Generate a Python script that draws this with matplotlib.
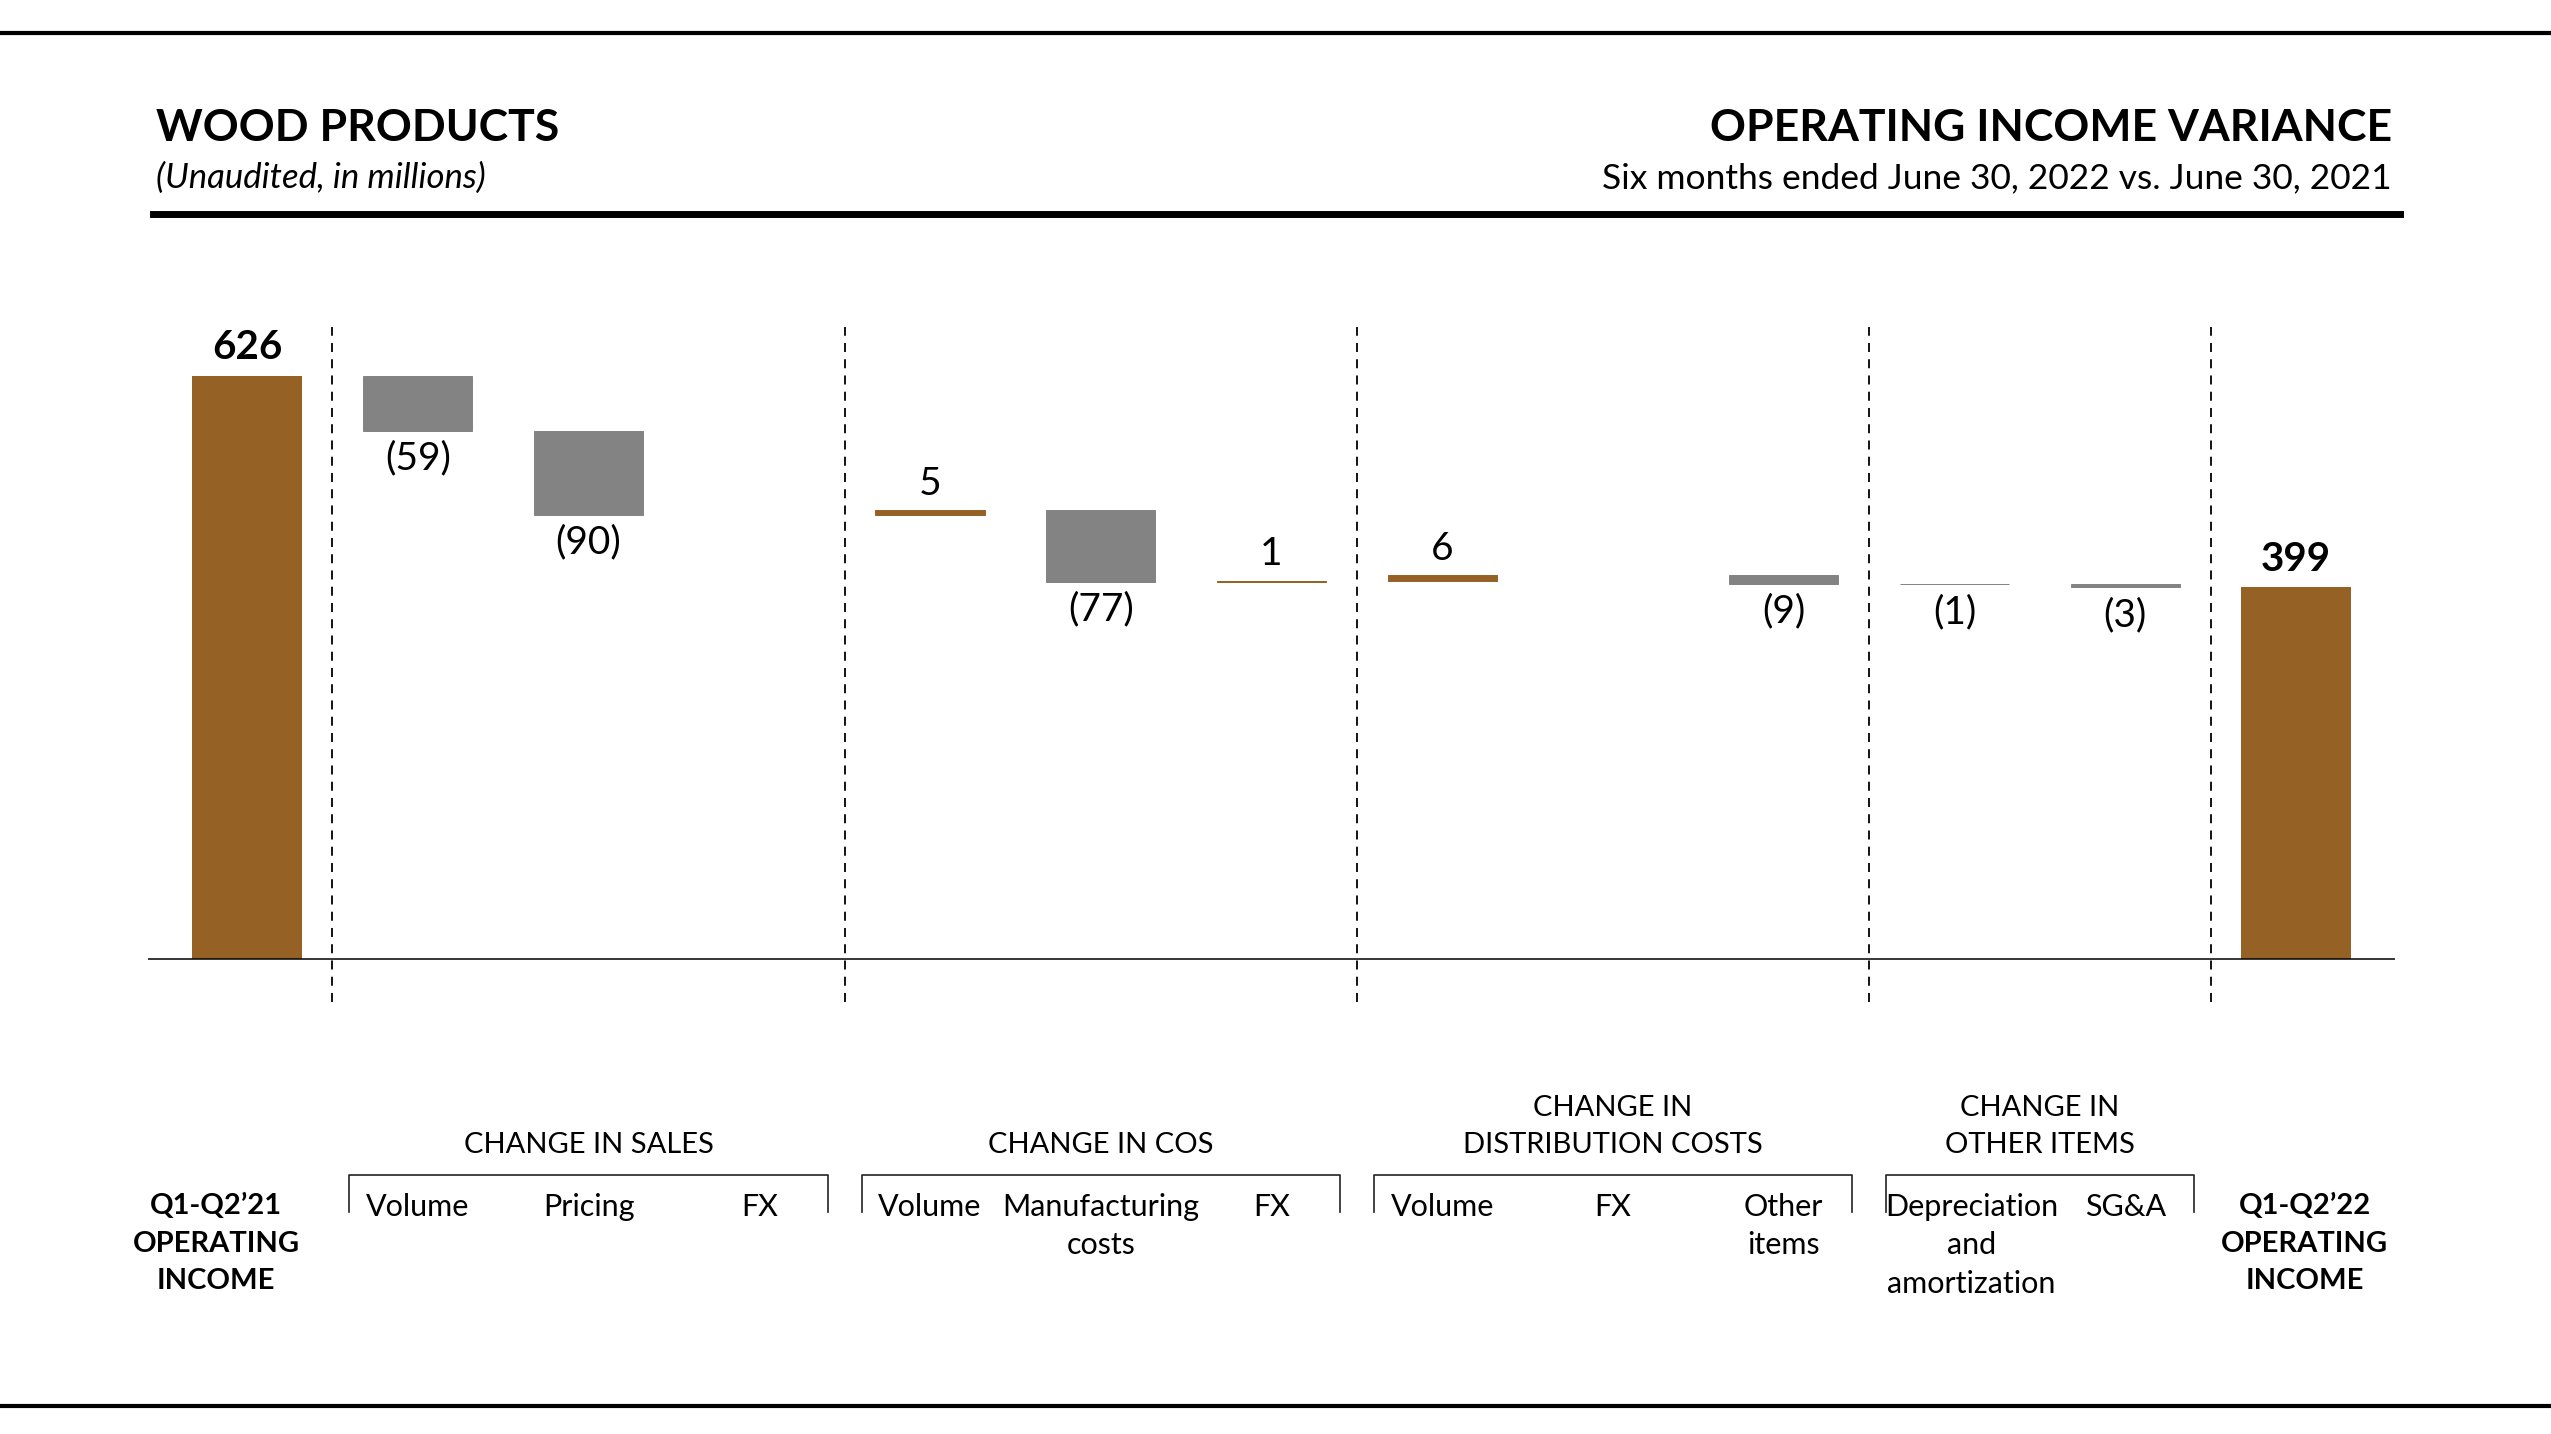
import numpy as np
import matplotlib.pyplot as plt
from matplotlib.lines import Line2D
from matplotlib.transforms import blended_transform_factory

plt.rcParams['font.family'] = ['Lato', 'DejaVu Sans']

# chart values
start_label = "Q1-Q2’21\nOPERATING\nINCOME"
end_label = "Q1-Q2’22\nOPERATING\nINCOME"
start_value = 626
end_value = 399
step_labels = ["Volume", "Pricing", "FX",
               "Volume", "Manufacturing\ncosts", "FX",
               "Volume", "FX", "Other\nitems",
               "Depreciation\nand\namortization", "SG&A"]
step_values = [-59, -90, 0, 5, -77, 1, 6, 0, -9, -1, -3]
group_names = ["CHANGE IN SALES", "CHANGE IN COS",
               "CHANGE IN\nDISTRIBUTION COSTS", "CHANGE IN\nOTHER ITEMS"]
group_sizes = [3, 3, 3, 2]

BROWN = '#956125'
GRAY = '#838383'
W, H = 2551, 1434


def fx(px):
    return px / W


def fy(px):
    return 1 - px / H


fig = plt.figure(figsize=(W / 100, H / 100), dpi=100)
ax = fig.add_axes([fx(148), fy(1002), fx(2395) - fx(148), fy(316) - fy(1002)])
ax.set_xlim(-0.58, 12.58)
ax.set_ylim(-46, 690)
ax.axis('off')

# waterfall geometry
steps = np.array(step_values, dtype=float)
after = start_value + np.cumsum(steps)
before = after - steps
bottoms = np.minimum(before, after)
heights = np.abs(steps)
x_steps = np.arange(1, len(steps) + 1)
x_end = len(steps) + 1

ax.bar([0, x_end], [start_value, end_value], width=0.64, color=BROWN, linewidth=0)
step_colors = [BROWN if v > 0 else GRAY for v in step_values]
for xv, b, h, c in zip(x_steps, bottoms, heights, step_colors):
    if h > 0:
        ax.bar(xv, h, bottom=b, width=0.64, color=c, edgecolor=c, linewidth=0.7)

ax.axhline(0, color='black', lw=1.1)

# value labels
for xv, val in [(0, start_value), (x_end, end_value)]:
    ax.annotate(f"{val}", (xv, val), xytext=(0, 7), textcoords='offset points',
                ha='center', va='bottom', fontsize=29, fontweight='bold')
for xv, v, lo, hi in zip(x_steps, step_values, bottoms, bottoms + heights):
    if v > 0:
        ax.annotate(f"{v}", (xv, hi), xytext=(0, 6), textcoords='offset points',
                    ha='center', va='bottom', fontsize=28)
    elif v < 0:
        ax.annotate(f"({-v})", (xv, lo), xytext=(0, -7), textcoords='offset points',
                    ha='center', va='top', fontsize=28)

# group dividers, brackets and headers
trans = blended_transform_factory(ax.transData, fig.transFigure)
firsts = 1 + np.concatenate([[0], np.cumsum(group_sizes)[:-1]])
lasts = firsts + np.array(group_sizes) - 1
dividers = list(firsts - 0.5) + [lasts[-1] + 0.5]
ax.vlines(dividers, -46, 678, colors='black', lw=1.3, linestyles=(0, (5, 4)))

for name, a, b in zip(group_names, firsts, lasts):
    x0, x1 = a - 0.4, b + 0.4
    ax.plot([x0, x0, x1, x1], [fy(1212), fy(1175), fy(1175), fy(1212)],
            transform=trans, color='#222222', lw=1.2, clip_on=False)
    ax.text((a + b) / 2, fy(1158), name, transform=trans, ha='center', va='bottom',
            fontsize=21, linespacing=1.5)

for xv, lab in zip(x_steps, step_labels):
    nudge = 0.1 if lab.startswith("Depreciation") else 0.0
    ax.text(xv + nudge, fy(1193), lab, transform=trans, ha='center', va='top',
            fontsize=22, linespacing=1.45)

ax.text(-0.18, fy(1193), start_label, transform=trans, ha='center', va='top',
        fontsize=21, fontweight='bold', linespacing=1.55)
ax.text(x_end + 0.05, fy(1193), end_label, transform=trans, ha='center', va='top',
        fontsize=21, fontweight='bold', linespacing=1.55)

# header
fig.text(fx(156), fy(141), "WOOD PRODUCTS", ha='left', va='baseline',
         fontsize=32, fontweight='bold')
fig.text(fx(156), fy(188), "(Unaudited, in millions)", ha='left', va='baseline',
         fontsize=25, fontstyle='italic')
fig.text(fx(2392), fy(141), "OPERATING INCOME VARIANCE", ha='right', va='baseline',
         fontsize=32, fontweight='bold')
fig.text(fx(2392), fy(188), "Six months ended June 30, 2022 vs. June 30, 2021",
         ha='right', va='baseline', fontsize=25.5)

fig.add_artist(Line2D([0, 1], [fy(33), fy(33)], transform=fig.transFigure,
                      color='black', lw=3))
fig.add_artist(Line2D([fx(153), fx(2400)], [fy(214), fy(214)], transform=fig.transFigure,
                      color='black', lw=5))
fig.add_artist(Line2D([0, 1], [fy(1406), fy(1406)], transform=fig.transFigure,
                      color='black', lw=3))

fig.savefig('out.png', dpi=100, facecolor='white')
